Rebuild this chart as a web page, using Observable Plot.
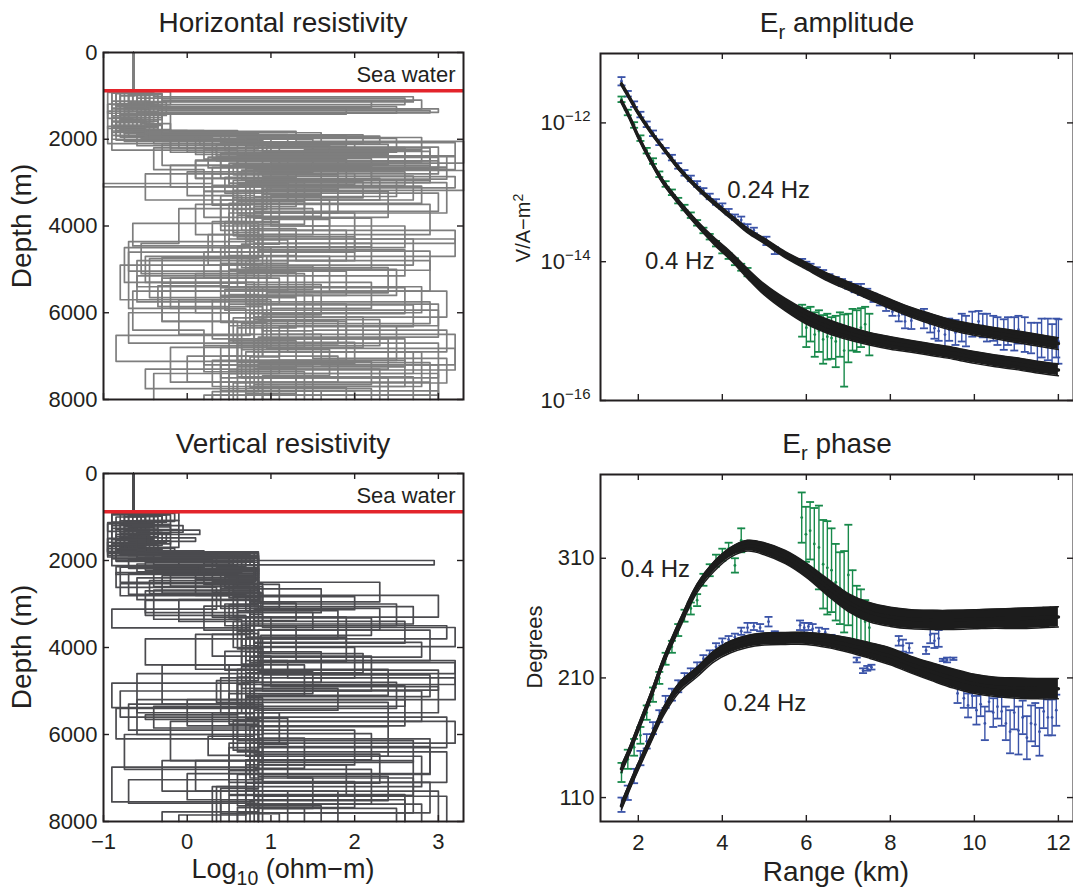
<!DOCTYPE html>
<html><head><meta charset="utf-8">
<script src="https://cdn.jsdelivr.net/npm/d3@7"></script>
<script src="https://cdn.jsdelivr.net/npm/@observablehq/plot@0.6"></script>
<style>
body{margin:0;background:#fff;}
#fig{position:relative;width:1073px;height:888px;overflow:hidden;font-family:"Liberation Sans",Arial,Helvetica,sans-serif;color:#231f20;background:#fff;}
#fig svg{position:absolute;max-width:none;background:transparent;}
.lbl{position:absolute;white-space:nowrap;transform:translate(-50%,-50%);line-height:1;}
.lbl.rot{transform:translate(-50%,-50%) rotate(-90deg);}
.lbl sub{font-size:.72em;vertical-align:baseline;position:relative;top:.36em;}
.lbl sup{font-size:.7em;vertical-align:baseline;position:relative;top:-.5em;}
</style></head><body><div id="fig"></div>
<script>
// ---------------- data ----------------
const seaWaterLog = -0.64;          // log10 ohm-m of sea water
const seaDepth = 880;               // m
const logDomain = [-1, 3.3];
const logTicks = [-1, 0, 1, 2, 3];
const depthDomain = [0, 8000];
const depthTicks = [0, 2000, 4000, 6000, 8000];

// each profile: [depth (x100 m), log10 resistivity] for layers below the sea water
const horizProfiles = [
 [[9,-.5],[13,-.85],[18,.2],[22,2.9],[25,.6],[30,1.4],[36,.8],[44,2.2],[50,.7],[58,3.0],[63,.9],[70,1.8],[76,.5]],
 [[9.5,-.3],[11,2.8],[13,-.7],[17,-.4],[21,1.1],[26,-.2],[31,.7],[39,.3],[46,1.2],[55,-.3],[62,.6],[71,2.6],[77,1.0]],
 [[10,-.8],[15,-.55],[19,.5],[24,3.2],[27,.8],[33,.4],[41,1.9],[48,.6],[54,2.8],[60,-.7],[67,1.1],[74,-.4]],
 [[9,-.9],[12,-.4],[16,-.9],[20,.9],[23,1.8],[28,.3],[35,2.9],[42,.9],[49,.4],[56,1.5],[64,3.1],[69,.7],[78,2.0]],
 [[9.2,-.6],[12.5,2.5],[14,-.75],[18.5,-.1],[22,2.6],[27,1.0],[32,.2],[38,.9],[47,-.5],[53,.8],[61,2.1],[68,.4],[75,1.3]],
 [[9.8,-.35],[13.5,-.95],[17.5,-.5],[20,1.5],[25,.1],[29,2.3],[34,.6],[43,3.2],[47,.95],[57,.3],[66,2.4],[73,.8]],
 [[9,-.7],[11.5,-.25],[14.5,-.6],[19,2.1],[21,-.3],[26,.8],[30,3.1],[37,.5],[45,1.0],[52,-.2],[59,.7],[65,1.6],[72,3.0],[79,.2]],
 [[9.9,-.45],[16,-.85],[18,.0],[23,1.2],[28,-.5],[34,1.7],[40,.75],[50,2.5],[56,.5],[63,.9],[70,.0],[76,2.9]],
 [[9.3,-.8],[12,-.3],[15.5,-.8],[19.5,.3],[24.5,2.2],[31,.9],[36,-.1],[44,-.55],[51,1.4],[60,.8],[69,2.7],[74,.5]],
 [[9.6,-.55],[13,3.0],[13.8,-.6],[17,-.9],[22.5,.6],[26,1.6],[33,1.0],[40,2.6],[45,.4],[54,.9],[62,1.9],[71,.3],[77,1.1]],
 [[9,-.2],[12,-.7],[17,-.95],[21,2.0],[24,.4],[29,.9],[35,.1],[42,1.3],[48,2.9],[55,-.65],[64,.2],[72,1.5]],
 [[9.7,-.6],[14,-.2],[18.2,1.3],[20.5,3.3],[25.5,.5],[31,1.8],[37,.8],[46,.2],[52,1.1],[58,.5],[67,3.0],[75,.9]],
 [[9.4,-.9],[13,-.5],[16.5,-.3],[19,.1],[23.5,.9],[28.5,2.7],[34,1.1],[39,.45],[47,1.7],[55,3.1],[61,.8],[70,.4],[78,1.6]],
 [[10,-.65],[12.8,1.9],[14.2,-.8],[18,.6],[22,-.4],[27,.2],[32,2.4],[38,.7],[45,-.75],[53,2.2],[59,1.0],[68,-.2],[76,.6]],
 [[9,-.75],[13.2,-.45],[17.2,-.75],[20.5,.8],[24,2.9],[29.5,.55],[35,.9],[43,.5],[50,.95],[57,-.1],[65,.8],[73,2.3]],
 [[9.7,-.4],[11.8,-.85],[16,-.55],[19.8,2.5],[23,1.1],[27.5,.0],[33,.65],[41,3.2],[44,.8],[52,-.3],[62,1.2],[69,2.8],[77,.7]],
 [[9.2,-.95],[14,-.3],[18.8,-.6],[21.5,1.5],[26,2.9],[30,.75],[36,1.5],[42,.25],[49,.85],[58,1.9],[66,.5],[74,3.0]],
 [[9.9,-.5],[15,-.8],[17.8,-.2],[22,.35],[25,3.0],[28,1.2],[34,.4],[40,.85],[48,-.6],[54,.75],[63,2.5],[71,1.0],[79,.3]],
 [[9,-.6],[10.5,2.6],[12,-.5],[16.8,-.85],[20.2,-.2],[23,1.9],[30.5,.6],[37,2.0],[46,.8],[51,.1],[60,1.4],[68,.65],[75,2.4]],
 [[9.5,-.85],[12.2,-.35],[17,-.7],[19.4,1.0],[24.8,.1],[29,1.3],[35.5,.8],[43,2.7],[49,-.8],[57,1.0],[65,3.2],[72,.4]],
 [[9.1,-.7],[12.6,-.3],[15,-.9],[18.4,.7],[21.8,3.0],[26.5,.3],[30.2,-1.0],[31,.9],[38.5,1.7],[46,-.7],[59,.5],[66.5,1.3],[73,-.5],[77.5,2.2]],
 [[9.4,-.45],[11.2,-.9],[15.8,-.35],[18.6,.45],[21.2,2.4],[23.6,.7],[27.2,3.3],[31.8,.55],[39.5,.85],[47.5,-.45],[56.5,1.3],[63.5,.6],[71.5,2.9],[79,.9]],
 [[9.2,-.4],[10.2,2.7],[11.4,-.6],[14.6,-.9],[18.1,.6],[19.6,2.8],[22.4,1.4],[24.2,3.0],[26.8,.7],[29.8,2.1],[33.5,.55],[41.5,.85],[45.5,2.6],[51.5,-.6],[57.5,2.9],[62.5,.65],[68.5,1.7],[74.5,.9]],
 [[9.6,-.7],[11.6,-.35],[13.4,2.9],[13.9,-.5],[16.2,-.85],[19.2,1.9],[21.6,.95],[23.2,2.4],[25.8,.55],[28.2,1.8],[31.5,.9],[37.5,.6],[42.5,2.0],[48,.7],[53.5,1.6],[60.5,.9],[66,2.6],[72.5,.6],[78,3.0]],
 [[9.1,-.8],[12.3,-.55],[16.4,-.2],[18.9,.4],[20.8,3.2],[23.8,.6],[27.5,2.6],[30.6,.3],[35.2,.75],[40.6,1.3],[46.8,.5],[53.8,-.35],[58.6,.9],[64.2,1.5],[70.5,3.1],[76.2,.55]],
 [[9.3,-.55],[11.9,-.95],[15.2,-.65],[18.3,-.3],[20.3,.9],[22.8,2.9],[25.6,1.3],[28.8,.45],[32.4,3.0],[36.6,.8],[43.6,-.7],[50.4,1.9],[56,.8],[61.6,2.3],[67.6,.2],[73.6,1.4]],
 [[9.8,-.6],[12.9,-.35],[17.4,-.9],[19.1,.15],[21.4,1.7],[23.3,.4],[26.2,2.2],[28.6,3.2],[31.2,.95],[36.2,.55],[42.2,.9],[47.2,-.3],[53.2,.7],[58.2,2.7],[63.2,1.1],[70.2,.75],[77.2,1.9]],
 [[9.5,-.5],[11.3,2.2],[12.7,-.75],[17.8,-.5],[19.3,2.3],[21.1,.7],[24.4,1.5],[27.6,.85],[30.8,2.8],[34.8,.5],[39.2,1.1],[44.2,.65],[49.6,2.4],[55.4,.95],[61.2,.55],[66.8,2.0],[71.8,.85],[78.2,.3]],
 [[9,-.85],[12.4,-.45],[15.4,-.75],[18.7,.85],[22.2,.2],[24.6,1.9],[27.1,.65],[29.4,2.5],[33.2,.8],[38.2,2.2],[44.8,.6],[50.8,1.3],[56.2,.4],[62.2,.95],[68.2,3.2],[73.2,.5]],
 [[9.4,-.65],[13.6,-.85],[16.9,-.45],[19.9,.7],[21.9,2.6],[24.1,.25],[26.6,3.1],[29.2,.9],[32.8,1.6],[37.8,.7],[43.2,1.2],[48.6,.4],[54.2,2.6],[60.2,.75],[65.2,-.85],[71.2,2.2],[76.6,.8]],
 [[9.7,-.3],[12.1,-.8],[15.6,-.5],[18.5,1.6],[20.6,.45],[22.6,2.8],[25.2,1.0],[27.9,2.0],[30.4,.6],[34.4,1.4],[39.6,.85],[45.8,2.9],[50.2,.5],[55.8,.85],[61.8,1.8],[67.2,.6],[74.8,2.7]],
 [[9.2,-.5],[12.8,-.9],[16.8,-.3],[18.9,1.2],[21.2,.35],[23.9,3.1],[26.4,.5],[30.1,1.2],[34.2,.7],[39.4,-.65],[44.6,.75],[49.2,1.5],[54.6,.45],[59.4,3.0],[65.6,.85],[72.6,1.3],[78.6,.7]]
];

const vertProfiles = [
 [[9,-.3],[11,-.75],[14,-.5],[18,.8],[21,-.4],[26,.9],[30,2.5],[35,.7],[43,1.2],[47,3.2],[52,-.6],[60,.85],[66,2.7],[74,.5]],
 [[9.5,-.2],[12,-.9],[16,-.6],[18.5,-.1],[23,.85],[28,.3],[33,1.9],[39,.8],[44,-.3],[53,.9],[59,2.0],[67,.7],[76,2.8]],
 [[10,-.5],[13,.15],[14,-.85],[17.5,-.3],[19,.85],[24,-.6],[29,.6],[36,2.9],[43,.8],[50,-.8],[56,3.1],[63,.75],[70,1.5],[77,.9]],
 [[9.2,-.8],[11.5,-.4],[15,-.95],[18,.7],[20.5,.2],[25.5,1.1],[31,.75],[37,.1],[45,2.4],[51,.85],[57,-.2],[66,.8],[73,3.0]],
 [[9,-.1],[10.8,-.6],[13.5,-.3],[16.5,-.9],[19.5,.5],[22,.85],[27,-.5],[32,.8],[41,1.6],[48,.65],[55,.3],[61,2.9],[69,.8],[75,.4]],
 [[9.8,-.45],[12.5,-.7],[15.5,-.2],[18.2,-.6],[20,2.95],[21,.8],[26,.4],[31,2.3],[36,.85],[44,.5],[52,2.6],[58,.9],[66,.1],[73,1.8]],
 [[9.3,-.6],[13,-.1],[17,-.8],[18.8,.85],[24,.1],[28,3.0],[33,.7],[40,.9],[46,-.6],[55,.8],[62,1.2],[70,2.7],[78,.6]],
 [[9.9,-.35],[14.5,-.85],[17.8,.2],[21.5,-.8],[25,.8],[30,.45],[35,1.3],[43,3.2],[46,.75],[54,.9],[60,-.75],[68,2.2],[76,.85]],
 [[9,-.7],[12,-.05],[13.5,-.5],[16.8,-.95],[19.2,.6],[23.5,-.3],[27.5,.9],[34,.55],[40,2.0],[47,.8],[53,-.7],[59,.7],[65,2.8],[72,.3]],
 [[9.6,-.25],[11.2,-.9],[15.2,-.4],[18.4,.85],[22.5,.4],[26.5,1.6],[32,.8],[38,-.5],[44,.9],[50,2.8],[57,.6],[64,3.1],[71,.8],[77,1.4]],
 [[9.4,-.55],[13.8,-.75],[17.2,-.15],[19.8,.3],[24.5,.85],[29,-.1],[34,2.6],[39,.85],[47,.4],[55,1.1],[62,.75],[69,.0],[75,2.6]],
 [[10,-.85],[12.8,-.35],[16,-.65],[18.6,.75],[21,.85],[25,2.3],[29.5,.75],[37,.3],[42,1.0],[49,3.0],[55,.85],[63,.5],[71,2.9],[78,.7]],
 [[9.1,-.4],[11.8,-.8],[14.8,.1],[15.6,-.7],[18.9,-.4],[22,.8],[27,.55],[33,1.0],[41,.7],[48,2.5],[54,-.85],[61,.9],[67,1.9],[74,.85]],
 [[9.7,-.65],[12.3,-.2],[16.2,-.9],[19.6,.85],[23,-.7],[27.8,.7],[31.5,1.8],[38,.9],[45,.6],[52,.0],[58,2.4],[65,.8],[72,.35]],
 [[9.9,-.75],[13.2,-.5],[17.6,-.85],[20.2,.8],[24,.5],[28.6,.85],[35,3.1],[38,.65],[44,1.4],[51,.7],[59,.9],[66,-.3],[73,1.2]],
 [[9.2,-.15],[11,-.7],[14.2,-.45],[18,-.9],[21.2,.6],[25.2,.9],[30.5,.2],[36,.8],[42,2.2],[50,.75],[57,3.2],[62,.5],[69,.9],[77,2.5]],
 [[9.5,-.9],[12.6,-.6],[15.8,-.95],[18.3,.65],[22.8,-.85],[26.2,.35],[31.2,-.9],[35.5,.75],[43.5,3.2],[48.5,.6],[55.5,-.5],[56.5,.85],[67.5,-.9],[75.5,.8]],
 [[9.3,-.5],[11.6,-.95],[16.6,-.7],[18.7,.5],[23.8,.85],[26.8,-.4],[33.5,.65],[43.8,.9],[48.8,2.6],[53.5,-.4],[58.5,.8],[64.5,2.3],[71.2,.7],[78.5,-.1]],
 [[9.4,-.5],[10.9,-.8],[13.7,-.25],[15.9,-.75],[18.1,.84],[20.4,-.5],[22.2,.82],[24.8,.3],[27.3,.88],[31.6,.6],[36.8,.85],[41.4,2.1],[45.8,.7],[51.6,.9],[56.8,.55],[63.6,.85],[69.6,2.4],[75.2,.75]],
 [[9.6,-.7],[12.4,-.4],[15.4,-.85],[18.2,.3],[19.7,-.7],[21.8,.85],[23.4,-.2],[25.9,.75],[29.8,1.3],[33.8,.8],[38.8,2.8],[42.2,.75],[48.2,-.9],[53.8,.85],[60.8,1.4],[67.8,.8],[74.2,3.1]],
 [[9.2,-.9],[11.4,-.55],[14.4,-.8],[17.4,-.5],[18.9,.7],[21.4,-.85],[23.2,.6],[26.4,.85],[30.2,.5],[33.2,2.2],[37.2,.88],[44.4,.65],[49.4,1.8],[54.4,.8],[60.4,.25],[64.8,.9],[70.8,2.0],[76.8,.6]],
 [[9.8,-.3],[11.9,-.65],[14.9,-.95],[17.9,-.6],[19.4,.85],[22.4,.1],[24.4,.85],[28.4,.6],[31.9,1.5],[35.9,.85],[40.9,.45],[45.2,3.0],[49.8,.8],[55.2,.6],[61.4,2.7],[66.4,.85],[72.4,.4],[78.2,1.1]],
 [[9.1,-.6],[11.3,-.95],[13.3,-.45],[16.3,-.8],[18.6,.55],[20.8,-.6],[22.6,.85],[25.6,.55],[28.3,2.0],[31.3,.8],[36.3,.6],[40.3,.9],[46.3,2.9],[51.3,.7],[56.3,1.2],[62.3,.85],[68.3,.5],[73.8,2.6]],
 [[9.5,-.4],[12.2,-.75],[16.4,-.35],[18.4,-.85],[19.9,.8],[23.6,.45],[26.2,.86],[29.2,-.5],[32.6,.7],[37.6,1.9],[43.2,.85],[47.6,.35],[52.6,2.4],[58.2,.75],[64.2,.9],[70.4,-.7],[75.8,.85]],
 [[9.3,-.75],[11.7,-.2],[13.9,-.6],[17.3,-.95],[18.8,.35],[21.6,.85],[24.6,-.45],[27.6,.8],[30.6,2.7],[34.6,.65],[39.6,.85],[45.6,1.5],[50.6,.5],[57.6,.85],[62.8,2.9],[69.2,.6],[76.4,1.6]],
 [[9.7,-.55],[10.8,-.1],[12.9,-.85],[15.1,-.5],[18,.85],[21,.15],[23.1,.8],[25.3,-.8],[28.1,.75],[32.4,.9],[35.4,3.2],[39.8,.8],[46.8,.6],[53.2,.9],[59.8,2.2],[65.8,.7],[72.8,.85],[77.8,-.3]]
];

// Range axis (km)
const rangeDomain = [1.1, 12.36];
const rangeTicks = [2, 4, 6, 8, 10, 12];

// Amplitude: log10 (V/A-m^2)
const ampDomain = [1e-16, 1e-11];
const ampTicks = [1e-16, 1e-14, 1e-12];
const modelRange = [1.6,1.8,2.0,2.3,2.6,3.0,3.4,3.8,4.2,4.6,5.0,5.5,6.0,6.5,7.0,7.5,8.0,8.5,9.0,9.5,10,10.5,11,11.5,12];
const amp024Model = [-11.44,-11.65,-11.86,-12.13,-12.37,-12.68,-12.93,-13.15,-13.35,-13.55,-13.70,-13.90,-14.06,-14.22,-14.35,-14.48,-14.61,-14.73,-14.83,-14.92,-14.98,-15.03,-15.08,-15.13,-15.18];
const amp024Spread = [.02,.02,.02,.02,.02,.025,.025,.03,.03,.035,.04,.045,.05,.055,.06,.065,.07,.07,.075,.075,.08,.08,.085,.085,.085];
const amp04Model = [-11.69,-11.93,-12.2,-12.55,-12.86,-13.17,-13.45,-13.7,-13.92,-14.17,-14.40,-14.62,-14.80,-14.93,-15.03,-15.11,-15.17,-15.22,-15.27,-15.32,-15.38,-15.43,-15.47,-15.52,-15.56];
const amp04Spread = [.02,.02,.02,.025,.03,.035,.04,.05,.06,.07,.08,.09,.1,.1,.095,.09,.09,.085,.085,.085,.085,.085,.085,.085,.085];

// [range km, log10 amplitude, error (decades)]
const amp024Data = [
 [1.6,-11.4,.06],[1.75,-11.58,.04],[1.9,-11.73,.04],[2.05,-11.88,.04],[2.2,-12.02,.04],[2.35,-12.15,.04],[2.5,-12.28,.04],[2.65,-12.40,.04],[2.8,-12.5,.04],[2.95,-12.62,.04],[3.1,-12.72,.04],[3.25,-12.8,.04],[3.4,-12.88,.04],[3.55,-12.98,.04],[3.7,-13.06,.04],[3.85,-13.14,.04],[4.0,-13.2,.04],[4.15,-13.28,.04],[4.3,-13.36,.04],[4.45,-13.4,.05],[4.6,-13.5,.04],[4.75,-13.55,.04],[5.05,-13.7,.06],[5.25,-13.84,.05],
 [5.9,-14.0,.04],[6.0,-14.04,.04],[6.1,-14.07,.04],[6.25,-14.12,.04],[6.4,-14.16,.04],[6.55,-14.22,.04],[6.7,-14.26,.04],[6.85,-14.3,.05],[7.0,-14.34,.05],[7.15,-14.38,.06],[7.3,-14.4,.08],[7.45,-14.45,.06],[7.6,-14.52,.06],[7.75,-14.58,.05],[7.9,-14.66,.05],[8.05,-14.72,.06],[8.2,-14.78,.08],[8.35,-14.86,.1],[8.5,-14.85,.12],
 [8.8,-14.82,.14],[8.95,-14.9,.12],[9.05,-14.96,.15],[9.15,-15.0,.14],[9.3,-15.05,.2],[9.4,-14.98,.16],[9.55,-15.02,.18],[9.7,-14.95,.2],[9.8,-15.0,.22],[9.95,-14.9,.18],[10.1,-14.86,.15],[10.2,-14.92,.17],[10.3,-14.95,.2],[10.45,-14.96,.18],[10.55,-15.0,.2],[10.7,-15.05,.22],[10.8,-15.0,.2],[10.95,-15.04,.24],[11.05,-14.98,.2],[11.2,-15.05,.25],[11.35,-15.1,.22],[11.5,-15.18,.3],[11.6,-15.1,.28],[11.75,-15.12,.3],[11.85,-15.2,.3],[11.95,-15.1,.28],[12.0,-15.15,.32]
];
const amp04Data = [
 [1.6,-11.66,.04],[1.75,-11.85,.04],[1.9,-12.03,.04],[2.05,-12.22,.04],[2.2,-12.4,.04],[2.35,-12.55,.04],[2.5,-12.74,.04],[2.65,-12.88,.04],[2.8,-13.0,.04],[2.95,-13.12,.04],[3.1,-13.22,.04],[3.25,-13.33,.04],[3.4,-13.44,.04],[3.55,-13.55,.04],[3.7,-13.64,.04],[3.85,-13.74,.04],[4.0,-13.84,.04],[4.15,-13.92,.04],[4.3,-14.0,.05],[4.45,-14.08,.05],[4.6,-14.15,.06],
 [5.9,-14.85,.23],[6.0,-14.95,.28],[6.1,-14.9,.25],[6.2,-15.05,.32],[6.3,-15.0,.3],[6.4,-15.12,.35],[6.5,-15.08,.33],[6.6,-15.1,.3],[6.7,-15.15,.37],[6.8,-15.05,.32],[6.9,-15.28,.52],[7.0,-15.1,.35],[7.1,-14.98,.3],[7.2,-15.0,.3],[7.3,-14.95,.28],[7.4,-14.9,.25],[7.5,-15.05,.3]
];

// Phase (degrees)
const phaseDomain = [90, 380];
const phaseTicks = [110, 210, 310];
const ph04Model = [134,150,168,195,224,256,285,303,315,320.5,318,311,300,286,273,265,261,259,258.5,258.5,259,259.5,259.7,260.3,261];
const ph04Spread = [3,3,3,3,3,3.5,3.5,4,4,4.5,5,5.5,6,7,7.5,8,8,8,8,8,8,8,8.5,8.5,8.5];
const ph024Model = [103,120,136,159,182,203,215,228,236,240.5,242.5,243,243,241,237.5,233,228,221,215,209.5,205,202.5,201.5,201,201];
const ph024Spread = [3,3,3,3,3.5,4,4,4.5,5,5,5,5,5,5.5,6,6.5,7,7,7.5,8,8,8,8.5,8.5,8.5];

// [range km, phase deg, error deg]
const ph024Data = [
 [1.6,104,6],[1.75,114,6],[1.9,128,6],[2.05,143,6],[2.2,157,6],[2.35,168,5],[2.5,178,5],[2.65,190,5],[2.8,196,5],[2.95,203,5],[3.1,210,4],[3.25,214,4],[3.4,219,4],[3.55,226,3],[3.7,230,3],[3.85,236,3],[4.0,240,3],[4.15,242,3],[4.3,244,3],[4.45,249,3],[4.6,252,4],[4.75,253,3],[4.9,252,3],[5.1,257,4],[5.25,247,2],
 [5.85,254,4],[5.95,252,4],[6.05,253,3],[6.15,251,4],[6.3,249,3],[6.45,248,3],[6.6,244,2],[6.75,238,2],[6.85,237,2],[7.0,236,2],[7.2,225,2],[7.35,216,2],[7.45,218,2],[7.55,219,2],[7.7,231,2],[7.85,229,2],
 [8.2,241,4],[8.3,237,5],[8.45,235,4],[8.85,233,3],[8.95,246,7],[9.05,241,6],[9.15,243,7],[9.25,225,1],[9.35,225,2],[9.5,226,1],[9.6,197,8],[9.75,193,8],[9.85,187,10],[9.95,195,10],[10.05,183,12],[10.15,188,10],[10.25,172,14],[10.35,190,8],[10.45,181,12],[10.55,186,10],[10.65,182,12],[10.75,172,14],[10.85,165,18],[10.95,181,14],[11.05,166,20],[11.15,177,14],[11.25,160,18],[11.35,172,15],[11.45,171,18],[11.55,165,20],[11.65,182,14],[11.75,177,15],[11.85,177,15],[11.95,183,13]
];
const ph04Data = [
 [1.6,131,8],[1.75,142,8],[1.9,152,7],[2.05,162,7],[2.2,181,6],[2.35,196,6],[2.5,210,5],[2.65,226,5],[2.8,236,5],[2.95,250,5],[3.1,262,5],[3.25,268,5],[3.4,275,5],[3.55,292,5],[3.7,300,5],[3.85,308,5],[4.0,313,5],[4.15,318,5],[4.3,304,6],[4.45,325,10],
 [5.89,344,21],[5.99,330,23],[6.09,333,24],[6.19,322,30],[6.3,319,35],[6.4,305,37],[6.5,302,39],[6.6,300,35],[6.7,290,32],[6.8,285,30],[6.9,282,34],[7.0,296,42],[7.1,270,30],[7.2,262,25],[7.3,262,22],[7.4,257,18],[7.5,252,15]
];

const ampLabels = [{text: "0.24 Hz", x: 4.12, y: -12.97}, {text: "0.4 Hz", x: 2.16, y: -14.0}];
const phaseLabels = [{text: "0.4 Hz", x: 1.58, y: 301}, {text: "0.24 Hz", x: 4.03, y: 189}];

// ---------------- styles ----------------
const font = '"Liberation Sans", Arial, Helvetica, sans-serif';
const ink = "#231f20";
const grayH = "#7e7e7e", grayV = "#4b4b4f", red = "#e3242b";
const blue = "#3a53a8", green = "#17894a", black = "#1c1c1c";
const fig = document.getElementById("fig");

const capSym = {draw(ctx, size) { const w = Math.sqrt(size / Math.PI); ctx.moveTo(-w, 0); ctx.lineTo(w, 0); }};

function boxTicks(xt, yt, iw, ih, len = 6) {
  const o = {stroke: ink, strokeWidth: 1.4};
  return [
    Plot.tickX(xt, {...o, insetTop: ih - len}),
    Plot.tickX(xt, {...o, insetBottom: ih - len}),
    Plot.tickY(yt, {...o, insetRight: iw - len}),
    Plot.tickY(yt, {...o, insetLeft: iw - len})
  ];
}

function profileRows(profiles) {
  const rows = [];
  profiles.forEach((p, i) => {
    const pts = [[0, seaWaterLog], ...p];
    pts.forEach(([d, v]) => rows.push({id: i, d: d * 100, v}));
    rows.push({id: i, d: depthDomain[1], v: pts[pts.length - 1][1]});
  });
  return rows;
}

function place(el, left, top) { el.style.left = left + "px"; el.style.top = top + "px"; fig.appendChild(el); }

function resPanel(profiles, color, H, mT, mB, showX) {
  const W = 490, mL = 103, mR = 27;
  const iw = W - mL - mR, ih = H - mT - mB;
  return Plot.plot({
    width: W, height: H, marginLeft: mL, marginRight: mR, marginTop: mT, marginBottom: mB,
    style: {fontFamily: font, color: ink, background: "transparent"},
    x: {domain: logDomain, axis: null},
    y: {domain: depthDomain, reverse: true, axis: null},
    marks: [
      Plot.line(profileRows(profiles), {x: "v", y: "d", z: "id", curve: "step-before", stroke: color, strokeWidth: 1.7}),
      Plot.ruleY([seaDepth], {stroke: red, strokeWidth: 3.5}),
      Plot.text(["Sea water"], {y: () => seaDepth, frameAnchor: "right", textAnchor: "end", dx: -8, dy: -16, fontSize: 22, fill: ink}),
      Plot.frame({stroke: ink, strokeWidth: 2}),
      ...boxTicks(logTicks, depthTicks, iw, ih),
      Plot.axisY({ticks: depthTicks, tickSize: 0, tickPadding: 6, fontSize: 22, tickFormat: d => String(d), label: null}),
      ...(showX ? [Plot.axisX({ticks: logTicks, tickSize: 0, tickPadding: 12, fontSize: 22, tickFormat: d => d < 0 ? "\u2212" + (-d) : String(d), label: null})] : [])
    ]
  });
}

function errMarks(data, color, f) {
  const t = data.map(([x, v, e]) => ({x, y: f(v), lo: f(v - e), hi: f(v + e)}));
  return [
    Plot.ruleX(t, {x: "x", y1: "lo", y2: "hi", stroke: color, strokeWidth: 1.4}),
    Plot.dot(t, {x: "x", y: "lo", symbol: capSym, r: 4, stroke: color, strokeWidth: 1.8, fill: "none"}),
    Plot.dot(t, {x: "x", y: "hi", symbol: capSym, r: 4, stroke: color, strokeWidth: 1.8, fill: "none"}),
    Plot.dot(t, {x: "x", y: "y", r: 1.4, fill: color, stroke: "none"})
  ];
}

function bandMarks(xs, c, hw, f) {
  const t = xs.map((x, i) => ({x, y: f(c[i]), lo: f(c[i] - hw[i]), hi: f(c[i] + hw[i])}));
  const curve = "catmull-rom";
  return [
    Plot.areaY(t, {x: "x", y1: "lo", y2: "hi", fill: black, curve}),
    Plot.line(t, {x: "x", y: "lo", stroke: black, strokeWidth: 1.5, curve}),
    Plot.line(t, {x: "x", y: "hi", stroke: black, strokeWidth: 1.5, curve}),
    Plot.line(t, {x: "x", y: "y", stroke: black, strokeWidth: 3.5, curve})
  ];
}

// ---------------- panels ----------------
const p1 = resPanel(horizProfiles, grayH, 420, 52, 21, false);
place(p1, 0, 0);
const p2 = resPanel(vertProfiles, grayV, 468, 53, 67, true);
place(p2, 0, 420);

const exp10 = v => 10 ** v, ident = v => v;
{
  const W = 583, H = 420, mL = 110, mR = 0, mT = 53, mB = 20;
  const p3 = Plot.plot({
    width: W, height: H, marginLeft: mL, marginRight: mR, marginTop: mT, marginBottom: mB,
    style: {fontFamily: font, color: ink, background: "transparent"},
    x: {domain: rangeDomain, axis: null},
    y: {type: "log", domain: ampDomain, axis: null},
    marks: [
      ...errMarks(amp024Data, blue, exp10),
      ...errMarks(amp04Data, green, exp10),
      ...bandMarks(modelRange, amp024Model, amp024Spread, exp10),
      ...bandMarks(modelRange, amp04Model, amp04Spread, exp10),
      Plot.text(ampLabels, {x: "x", y: d => exp10(d.y), text: "text", textAnchor: "start", fontSize: 24, fill: ink}),
      Plot.frame({stroke: ink, strokeWidth: 2}),
      ...boxTicks(rangeTicks, ampTicks, W - mL - mR, H - mT - mB),
      Plot.axisY({ticks: ampTicks, tickSize: 0, tickPadding: 10, fontSize: 22, tickFormat: d => "10|" + Math.round(Math.log10(d)), label: null})
    ]
  });
  p3.querySelectorAll("text").forEach(t => {
    const s = t.textContent;
    if (s.startsWith("10|")) {
      const e = s.slice(3).replace("-", "\u2212");
      while (t.firstChild) t.removeChild(t.firstChild);
      const a = document.createElementNS("http://www.w3.org/2000/svg", "tspan");
      a.textContent = "10";
      const b = document.createElementNS("http://www.w3.org/2000/svg", "tspan");
      b.textContent = e; b.setAttribute("dy", "-9"); b.setAttribute("font-size", "15");
      t.appendChild(a); t.appendChild(b);
    }
  });
  place(p3, 490, 0);
}
{
  const W = 583, H = 468, mL = 110, mR = 0, mT = 54, mB = 67;
  const p4 = Plot.plot({
    width: W, height: H, marginLeft: mL, marginRight: mR, marginTop: mT, marginBottom: mB,
    style: {fontFamily: font, color: ink, background: "transparent"},
    x: {domain: rangeDomain, axis: null},
    y: {domain: phaseDomain, axis: null},
    marks: [
      ...errMarks(ph024Data, blue, ident),
      ...errMarks(ph04Data, green, ident),
      ...bandMarks(modelRange, ph04Model, ph04Spread, ident),
      ...bandMarks(modelRange, ph024Model, ph024Spread, ident),
      Plot.text(phaseLabels, {x: "x", y: "y", text: "text", textAnchor: "start", fontSize: 24, fill: ink}),
      Plot.frame({stroke: ink, strokeWidth: 2}),
      ...boxTicks(rangeTicks, phaseTicks, W - mL - mR, H - mT - mB),
      Plot.axisY({ticks: phaseTicks, tickSize: 0, tickPadding: 6, fontSize: 22, label: null}),
      Plot.axisX({ticks: rangeTicks, tickSize: 0, tickPadding: 13, fontSize: 22, label: null})
    ]
  });
  place(p4, 490, 420);
}

// ---------------- titles and axis labels ----------------
const labels = [
  {html: "Horizontal resistivity", x: 283, y: 23, size: 28},
  {html: "Vertical resistivity", x: 283, y: 443.5, size: 28},
  {html: "E<sub>r</sub> amplitude", x: 837, y: 22.5, size: 28},
  {html: "E<sub>r</sub> phase", x: 837, y: 443.5, size: 28},
  {html: "Depth (m)", x: 22, y: 226, size: 28, rot: true},
  {html: "Depth (m)", x: 22, y: 647, size: 28, rot: true},
  {html: "Log<sub>10</sub> (ohm\u2212m)", x: 283, y: 869, size: 27},
  {html: "V/A\u2212m<sup>2</sup>", x: 523, y: 228, size: 20, rot: true},
  {html: "Degrees", x: 535, y: 647, size: 22, rot: true},
  {html: "Range (km)", x: 836, y: 872, size: 28}
];
labels.forEach(l => {
  const d = document.createElement("div");
  d.className = "lbl" + (l.rot ? " rot" : "");
  d.innerHTML = l.html;
  d.style.fontSize = l.size + "px";
  d.style.left = l.x + "px"; d.style.top = l.y + "px";
  fig.appendChild(d);
});
</script></body></html>
